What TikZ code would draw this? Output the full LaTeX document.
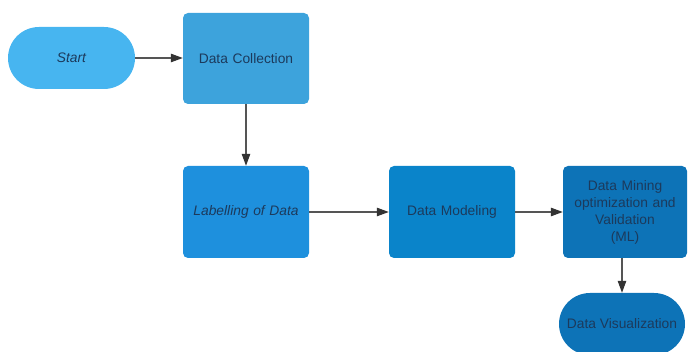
\documentclass[tikz,border=0pt]{standalone}
\usepackage{fontspec}
\setmainfont{Liberation Sans}
\usetikzlibrary{arrows.meta}
\definecolor{cStart}{HTML}{47B5F0}
\definecolor{cCollect}{HTML}{3DA3DC}
\definecolor{cLabel}{HTML}{1E90DD}
\definecolor{cModel}{HTML}{0A84CA}
\definecolor{cMine}{HTML}{0D73B7}
\definecolor{cText}{HTML}{1C3A5C}
\definecolor{cLine}{HTML}{555555}
\definecolor{cHead}{HTML}{333333}
\tikzset{
  procbox/.style={rectangle, rounded corners=5pt, minimum width=126pt, minimum height=92pt,
    inner sep=2pt, text width=118pt, align=center, text=cText,
    font=\fontsize{13.8}{17}\selectfont},
  terminal/.style={rectangle, rounded corners=31pt, minimum width=127pt, minimum height=62pt,
    inner sep=2pt, align=center, text=cText, font=\fontsize{13.8}{17}\selectfont},
  flow/.style={draw=cLine, line width=1.1pt,
    -{Triangle[length=12pt,width=8.5pt,fill=cHead,color=cHead]}}
}
\begin{document}
\begin{tikzpicture}[x=1pt,y=-1pt]
  \useasboundingbox (0,0) rectangle (688,352);
  \begin{scope}
    \clip (0,0) rectangle (688,352);
    \node[terminal, fill=cStart] (start) at (71.5,58) {\itshape Start};
    \node[procbox, fill=cCollect, minimum height=91pt] (collect) at (246,58.5) {Data Collection};
    \node[procbox, fill=cLabel] (label) at (246,212) {\itshape Labelling of Data};
    \node[procbox, fill=cModel] (model) at (452,212) {Data Modeling};
    \node[procbox, fill=cMine, minimum width=124pt] (mine) at (625,212)
      {Data Mining\\optimization and\\Validation\\(ML)};
    \node[terminal, fill=cMine, minimum width=126pt] (vis) at (622,324) {Data Visualization};

    \draw[flow] (start.east) -- (start.east -| collect.west);
    \draw[flow] (collect.south) -- (label.north);
    \draw[flow] (label.east) -- (model.west);
    \draw[flow] (model.east) -- (mine.west);
    \draw[flow] (vis.north |- mine.south) -- (vis.north);
  \end{scope}
\end{tikzpicture}
\end{document}
